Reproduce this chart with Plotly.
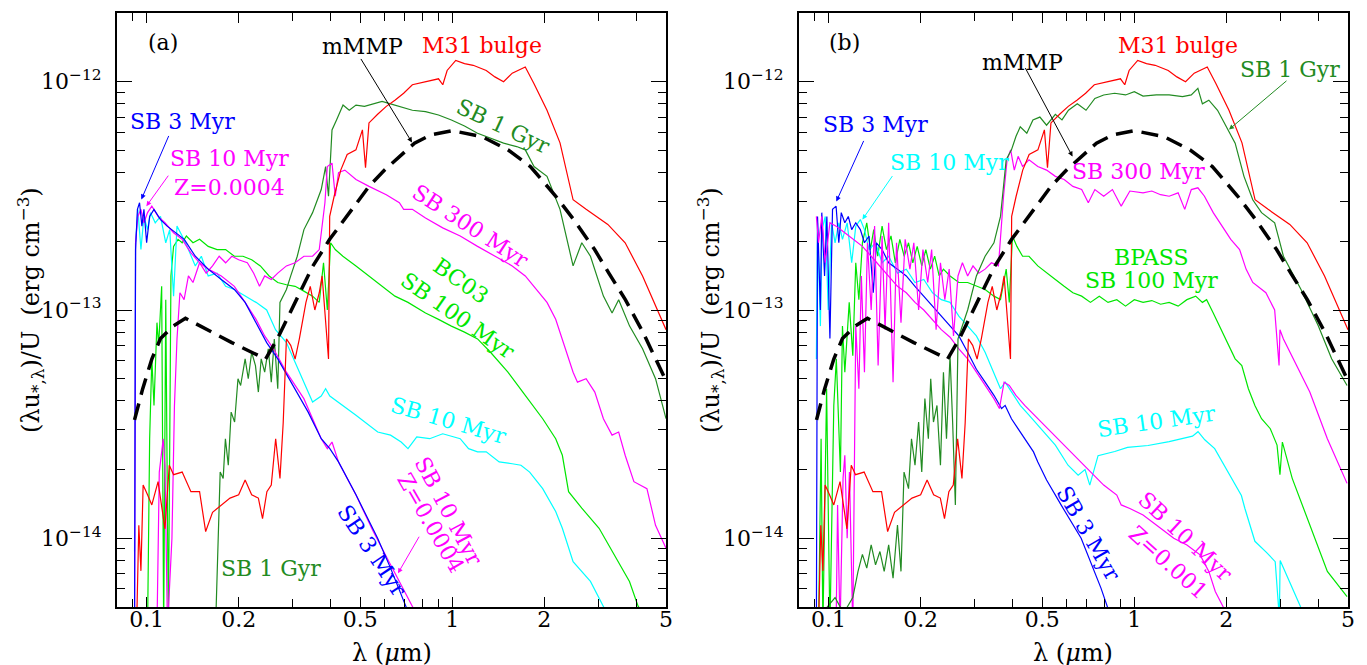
import numpy as np
import plotly.graph_objects as go

# (wavelength in um, lambda*u_lambda in 1e-13 erg cm^-3)

# shared by both panels
MMMP = [(0.0913, 0.33), (0.097, 0.45), (0.104, 0.61), (0.111, 0.75), (0.122, 0.85), (0.134, 0.92),
        (0.19, 0.72), (0.245, 0.61), (0.268, 0.75), (0.296, 0.99), (0.349, 1.55), (0.397, 2.04),
        (0.453, 2.6), (0.534, 3.48), (0.60, 4.1), (0.67, 4.7), (0.752, 5.38), (0.85, 5.85), (1.0, 6.1),
        (1.25, 5.75), (1.52, 5.03), (1.8, 4.25), (2.18, 3.15), (2.5, 2.48), (2.92, 1.84), (3.25, 1.45),
        (3.68, 1.11), (4.2, 0.80), (5.0, 0.49)]

M31_BULGE = [(0.0927, 0.04), (0.0943, 0.114), (0.0958, 0.072), (0.0974, 0.171), (0.1007, 0.155), (0.104, 0.14),
             (0.109, 0.177), (0.1148, 0.11), (0.1186, 0.209), (0.1225, 0.19), (0.1307, 0.195), (0.1396, 0.16),
             (0.149, 0.16), (0.156, 0.107), (0.1643, 0.13), (0.1755, 0.14), (0.1874, 0.15), (0.200, 0.155),
             (0.21, 0.18), (0.2206, 0.155), (0.232, 0.15), (0.2394, 0.122), (0.2474, 0.16), (0.2557, 0.171),
             (0.2643, 0.273), (0.273, 0.183), (0.2797, 0.32), (0.2866, 0.747), (0.296, 0.70), (0.306, 0.61),
             (0.316, 0.75), (0.332, 1.08), (0.343, 1.27), (0.355, 1.0), (0.367, 1.19), (0.375, 1.41),
             (0.3847, 0.88), (0.3935, 0.61), (0.397, 2.57), (0.4106, 3.15), (0.4315, 4.1), (0.4529, 4.8),
             (0.4838, 5.03), (0.508, 6.15), (0.520, 4.2), (0.5337, 6.6), (0.5697, 7.2), (0.608, 7.8),
             (0.649, 8.3), (0.693, 8.9), (0.740, 9.7), (0.8166, 10.0), (0.901, 10.3), (0.9306, 9.7),
             (0.9615, 11.2), (1.026, 12.4), (1.096, 12.0), (1.17, 11.8), (1.291, 11.2), (1.378, 10.5),
             (1.471, 10.0), (1.57, 10.9), (1.732, 11.6), (1.85, 9.8), (2.04, 7.5), (2.25, 5.4), (2.483, 3.04),
             (2.739, 2.76), (3.225, 2.37), (3.675, 1.97), (4.19, 1.41), (5.0, 0.82)]

# panel (a)
GYR1_A = [(0.168, 0.04), (0.171, 0.10), (0.174, 0.195), (0.178, 0.183), (0.181, 0.273), (0.185, 0.209),
          (0.189, 0.357), (0.194, 0.323), (0.199, 0.50), (0.203, 0.467), (0.210, 0.611), (0.215, 0.50),
          (0.2206, 0.653), (0.227, 0.571), (0.232, 0.437), (0.237, 0.611), (0.2433, 0.534), (0.25, 0.676),
          (0.2557, 0.483), (0.2616, 0.747), (0.2685, 0.452), (0.273, 1.08), (0.2866, 1.23), (0.296, 1.41),
          (0.311, 1.72), (0.327, 2.25), (0.349, 2.67), (0.3725, 3.37), (0.385, 4.25), (0.3935, 3.15),
          (0.404, 6.15), (0.418, 6.8), (0.439, 7.9), (0.46, 7.5), (0.484, 7.9), (0.516, 7.8), (0.551, 8.0),
          (0.589, 8.2), (0.628, 8.0), (0.671, 7.8), (0.74, 7.5), (0.817, 7.4), (0.901, 7.15), (0.993, 6.8),
          (1.096, 6.4), (1.209, 5.95), (1.333, 5.65), (1.471, 5.38), (1.623, 5.2), (1.732, 5.03), (1.85, 4.25),
          (2.04, 3.85), (2.25, 2.76), (2.483, 1.56), (2.651, 1.97), (2.83, 1.72), (3.12, 1.15), (3.33, 0.97),
          (3.5, 1.11), (3.8, 0.85), (4.19, 0.676), (4.62, 0.50), (5.0, 0.334)]

MYR300_A = [(0.1081, 0.04), (0.110, 0.195), (0.112, 0.239), (0.1133, 0.273), (0.1148, 0.209), (0.117, 0.04),
            (0.121, 0.10), (0.1233, 0.38), (0.1257, 0.747), (0.1285, 1.19), (0.1326, 1.11), (0.137, 1.41),
            (0.1418, 1.32), (0.149, 1.61), (0.1566, 1.45), (0.1643, 1.56), (0.1727, 1.72), (0.1813, 1.61),
            (0.19, 1.72), (0.2, 1.66), (0.2135, 1.61), (0.224, 1.45), (0.234, 1.27), (0.2433, 1.41),
            (0.2557, 1.36), (0.2685, 1.45), (0.2866, 1.56), (0.306, 1.61), (0.327, 1.72), (0.349, 1.72),
            (0.367, 1.84), (0.383, 2.95), (0.39, 4.25), (0.404, 4.4), (0.414, 3.15), (0.4243, 4.0),
            (0.445, 4.1), (0.484, 3.73), (0.534, 3.48), (0.608, 3.2), (0.671, 2.95), (0.693, 2.76),
            (0.74, 2.76), (0.817, 2.53), (0.93, 2.29), (1.061, 2.11), (1.209, 1.9), (1.378, 1.72),
            (1.57, 1.56), (1.732, 1.41), (1.85, 1.27), (2.04, 1.08), (2.178, 0.91), (2.325, 0.70),
            (2.483, 0.534), (2.566, 0.483), (2.739, 0.50), (2.924, 0.437), (3.12, 0.334), (3.33, 0.283),
            (3.5, 0.292), (3.675, 0.231), (3.925, 0.177), (4.33, 0.165), (4.62, 0.114), (5.0, 0.0904)]

MYR10Z_A = [(0.0913, 0.04), (0.092, 1.97), (0.0936, 2.57), (0.0958, 2.76), (0.098, 2.41), (0.1007, 2.67),
            (0.104, 2.85), (0.109, 2.57), (0.1148, 2.41), (0.1225, 2.18), (0.1307, 2.04), (0.1396, 1.78),
            (0.149, 1.61), (0.159, 1.51), (0.1755, 1.41), (0.1936, 1.27), (0.21, 1.08), (0.228, 0.91),
            (0.2433, 0.77), (0.26, 0.676), (0.2866, 0.534), (0.3268, 0.409), (0.3725, 0.273), (0.39, 0.247),
            (0.404, 0.264), (0.4243, 0.216), (0.484, 0.1546), (0.5513, 0.107), (0.628, 0.0765), (0.74, 0.0503),
            (0.76, 0.047)]

MYR3_A = [(0.0913, 0.04), (0.092, 1.84), (0.0933, 2.76), (0.0948, 2.95), (0.0965, 2.33), (0.098, 2.76),
          (0.1, 1.97), (0.1023, 2.57), (0.1057, 2.76), (0.111, 2.49), (0.1167, 2.33), (0.1245, 2.18),
          (0.1328, 2.04), (0.1443, 1.72), (0.159, 1.51), (0.1755, 1.36), (0.1936, 1.23), (0.21, 1.08),
          (0.228, 0.88), (0.247, 0.72), (0.2685, 0.611), (0.296, 0.483), (0.3376, 0.357), (0.3725, 0.273),
          (0.3974, 0.247), (0.4243, 0.216), (0.484, 0.155), (0.5697, 0.10), (0.628, 0.074), (0.705, 0.0503),
          (0.72, 0.047)]

MYR10_A = [(0.0913, 0.0875), (0.092, 1.97), (0.0936, 2.76), (0.0958, 1.84), (0.098, 2.57), (0.1007, 2.25),
           (0.103, 2.67), (0.1067, 2.41), (0.111, 2.57), (0.1155, 1.97), (0.119, 2.25), (0.1225, 1.15),
           (0.1257, 2.33), (0.1307, 2.11), (0.137, 1.84), (0.1443, 1.56), (0.151, 1.72), (0.159, 1.41),
           (0.17, 1.45), (0.1813, 1.27), (0.1936, 1.23), (0.21, 1.15), (0.228, 1.08), (0.247, 1.0),
           (0.264, 0.82), (0.2866, 0.72), (0.316, 0.534), (0.349, 0.395), (0.3725, 0.42), (0.385, 0.452),
           (0.3974, 0.42), (0.4243, 0.395), (0.484, 0.346), (0.57, 0.292), (0.628, 0.283), (0.68, 0.264),
           (0.716, 0.247), (0.765, 0.278), (0.843, 0.273), (0.93, 0.287), (1.061, 0.273), (1.13, 0.247),
           (1.209, 0.239), (1.291, 0.239), (1.423, 0.216), (1.57, 0.212), (1.677, 0.209), (1.79, 0.195),
           (1.975, 0.165), (2.178, 0.131), (2.29, 0.1106), (2.483, 0.079), (2.651, 0.0716), (2.83, 0.0647),
           (3.12, 0.0503), (3.2, 0.047)]

MYR100_A = [(0.1007, 0.04), (0.1023, 0.273), (0.104, 0.611), (0.1057, 0.382), (0.1081, 0.88), (0.1095, 0.70),
            (0.112, 1.27), (0.1137, 0.04), (0.1155, 1.11), (0.1178, 0.04), (0.1201, 1.41), (0.1225, 1.9),
            (0.1267, 2.04), (0.1307, 1.97), (0.1349, 2.11), (0.1418, 1.97), (0.149, 2.04), (0.159, 1.9),
            (0.17, 1.84), (0.1813, 1.84), (0.1936, 1.72), (0.2066, 1.72), (0.2206, 1.66), (0.2355, 1.56),
            (0.2516, 1.41), (0.2685, 1.32), (0.2866, 1.29), (0.306, 1.27), (0.3268, 1.21), (0.349, 1.15),
            (0.367, 1.08), (0.379, 1.61), (0.39, 1.0), (0.3997, 1.97), (0.414, 1.84), (0.4385, 1.72),
            (0.484, 1.56), (0.534, 1.41), (0.589, 1.27), (0.649, 1.15), (0.716, 1.08), (0.817, 0.97),
            (0.901, 0.91), (0.993, 0.85), (1.096, 0.80), (1.209, 0.747), (1.333, 0.653), (1.52, 0.534),
            (1.732, 0.423), (1.975, 0.334), (2.178, 0.273), (2.29, 0.231), (2.4, 0.16), (2.651, 0.1355),
            (3.02, 0.1106), (3.443, 0.0818), (3.797, 0.0647), (4.055, 0.0503), (4.2, 0.047)]

# panel (b)
GYR1_B = [(0.0927, 0.045), (0.105, 0.055), (0.112, 0.047), (0.12, 0.055), (0.1248, 0.0716), (0.129, 0.085),
          (0.1333, 0.074), (0.1378, 0.0935), (0.1424, 0.0765), (0.1472, 0.0875), (0.152, 0.0716),
          (0.1572, 0.0935), (0.1625, 0.0669), (0.168, 0.1143), (0.1725, 0.0716), (0.1765, 0.195),
          (0.1826, 0.165), (0.1867, 0.273), (0.1917, 0.209), (0.197, 0.323), (0.2017, 0.195), (0.2065, 0.409),
          (0.212, 0.273), (0.2158, 0.50), (0.2203, 0.323), (0.2262, 0.382), (0.2322, 0.209), (0.2375, 0.534),
          (0.243, 0.273), (0.2496, 0.63), (0.2545, 0.323), (0.2598, 0.14), (0.265, 0.747), (0.2715, 0.82),
          (0.285, 1.0), (0.3044, 1.41), (0.325, 1.72), (0.3474, 1.97), (0.365, 2.57), (0.381, 4.55),
          (0.3964, 5.03), (0.41, 5.75), (0.4235, 6.35), (0.445, 5.95), (0.466, 6.8), (0.491, 7.0),
          (0.5164, 6.45), (0.5517, 7.2), (0.58, 6.8), (0.609, 7.5), (0.651, 8.0), (0.695, 7.5), (0.743, 8.45),
          (0.794, 8.75), (0.862, 8.9), (0.936, 8.75), (1.0, 9.05), (1.068, 8.65), (1.18, 8.75), (1.30, 8.75),
          (1.438, 8.6), (1.536, 8.75), (1.614, 9.35), (1.67, 8.0), (1.753, 8.3), (1.872, 7.5), (2.0, 6.35),
          (2.137, 5.38), (2.284, 3.85), (2.44, 3.04), (2.607, 2.67), (2.878, 2.41), (2.975, 2.04),
          (3.074, 1.72), (3.51, 1.23), (4.0, 0.85), (4.42, 0.611), (4.965, 0.467)]

MYR3_B = [(0.0912, 0.04), (0.092, 2.57), (0.094, 1.0), (0.095, 2.67), (0.097, 1.41), (0.0987, 2.57), (0.101, 0.75),
          (0.103, 2.76), (0.1058, 2.85), (0.108, 1.97), (0.110, 2.67), (0.113, 2.41), (0.116, 2.57), (0.119, 2.25),
          (0.1227, 2.41), (0.127, 2.25), (0.131, 1.97), (0.1356, 2.11), (0.14, 1.19), (0.1433, 1.97),
          (0.1496, 1.84), (0.1572, 1.61), (0.168, 1.51), (0.1795, 1.41), (0.1917, 1.27), (0.2048, 1.15),
          (0.2188, 1.04), (0.2337, 0.94), (0.2496, 0.85), (0.2667, 0.77), (0.285, 0.653), (0.3044, 0.55),
          (0.325, 0.483), (0.3474, 0.423), (0.368, 0.37), (0.378, 0.382), (0.3964, 0.334), (0.4235, 0.292),
          (0.4524, 0.256), (0.468, 0.239), (0.4834, 0.216), (0.5164, 0.18), (0.576, 0.14), (0.67, 0.10),
          (0.778, 0.0605), (0.82, 0.05), (0.83, 0.047)]

MYR10_B = [(0.0912, 0.61), (0.092, 2.41), (0.094, 0.85), (0.0952, 2.25), (0.0975, 2.57), (0.0997, 1.0),
           (0.1023, 2.41), (0.105, 1.97), (0.108, 2.41), (0.111, 2.04), (0.115, 2.41), (0.119, 1.61),
           (0.1227, 2.33), (0.127, 2.49), (0.131, 2.25), (0.1356, 1.84), (0.1424, 1.97), (0.1496, 1.61),
           (0.1572, 1.72), (0.168, 1.45), (0.1795, 1.51), (0.1917, 1.32), (0.2048, 1.36), (0.2188, 1.19),
           (0.2337, 1.11), (0.2496, 1.08), (0.2667, 0.94), (0.285, 0.85), (0.3044, 0.77), (0.325, 0.653),
           (0.3474, 0.534), (0.365, 0.452), (0.378, 0.483), (0.3964, 0.437), (0.4235, 0.382), (0.4524, 0.346),
           (0.4834, 0.3126), (0.5164, 0.283), (0.5517, 0.256), (0.607, 0.209), (0.655, 0.189), (0.69, 0.20),
           (0.715, 0.171), (0.761, 0.23), (0.863, 0.24), (0.95, 0.25), (1.109, 0.255), (1.3, 0.265),
           (1.426, 0.273), (1.55, 0.28), (1.616, 0.293), (1.7, 0.27), (1.832, 0.247), (2.025, 0.196),
           (2.24, 0.154), (2.3, 0.135), (2.48, 0.097), (2.7, 0.087), (2.89, 0.079), (2.98, 0.045),
           (3.0, 0.08), (3.5, 0.05), (3.6, 0.047)]

MYR10Z_B = [(0.0912, 2.57), (0.0927, 1.97), (0.095, 2.57), (0.0975, 1.61), (0.101, 2.41), (0.1058, 2.33),
            (0.113, 2.18), (0.1207, 2.04), (0.129, 1.9), (0.1378, 1.72), (0.1472, 1.56), (0.1572, 1.41),
            (0.168, 1.27), (0.1795, 1.19), (0.1917, 1.08), (0.2048, 1.0), (0.2188, 0.91), (0.2337, 0.82),
            (0.2496, 0.76), (0.2667, 0.676), (0.285, 0.611), (0.3044, 0.534), (0.325, 0.467), (0.3474, 0.409),
            (0.362, 0.37), (0.375, 0.483), (0.39, 0.467), (0.41, 0.423), (0.438, 0.382), (0.4834, 0.334),
            (0.534, 0.292), (0.5894, 0.256), (0.651, 0.2235), (0.7187, 0.1954), (0.794, 0.171), (0.8763, 0.1546),
            (0.906, 0.14), (0.967, 0.135), (1.068, 0.1265), (1.219, 0.1106), (1.346, 0.10), (1.486, 0.0935),
            (1.641, 0.0846), (1.753, 0.0716), (1.84, 0.0585), (1.95, 0.0503), (2.0, 0.047)]

MYR300_B = [(0.1058, 0.04), (0.107, 0.14), (0.109, 0.04), (0.1115, 0.183), (0.113, 0.231), (0.115, 0.10),
            (0.117, 0.195), (0.12, 0.04), (0.1227, 0.85), (0.1256, 0.452), (0.128, 1.41), (0.131, 0.534),
            (0.134, 1.97), (0.1378, 1.0), (0.1414, 2.33), (0.1452, 0.571), (0.1496, 2.11), (0.153, 0.82),
            (0.1572, 2.41), (0.1625, 0.483), (0.1668, 1.97), (0.1725, 0.88), (0.178, 2.04), (0.1845, 1.51),
            (0.19, 1.97), (0.197, 1.0), (0.2035, 1.84), (0.211, 1.32), (0.2173, 1.84), (0.2247, 0.82),
            (0.2322, 1.61), (0.24, 1.11), (0.248, 1.51), (0.2562, 0.77), (0.265, 1.41), (0.274, 1.61),
            (0.285, 1.41), (0.2967, 1.56), (0.31, 1.45), (0.325, 1.51), (0.341, 1.61), (0.3594, 1.56),
            (0.3735, 3.15), (0.3836, 4.55), (0.394, 5.03), (0.405, 4.1), (0.4168, 4.71), (0.431, 4.25),
            (0.4524, 4.55), (0.4834, 4.25), (0.5164, 4.1), (0.5517, 3.85), (0.5894, 3.73), (0.6297, 3.48),
            (0.6727, 3.37), (0.707, 2.95), (0.743, 3.37), (0.794, 3.15), (0.848, 3.37), (0.906, 2.85),
            (0.967, 3.32), (1.068, 3.26), (1.141, 3.32), (1.219, 3.2), (1.30, 3.15), (1.391, 3.26),
            (1.462, 2.76), (1.536, 3.37), (1.614, 3.43), (1.696, 3.15), (1.812, 2.67), (1.936, 2.33),
            (2.068, 2.04), (2.21, 1.84), (2.32, 1.51), (2.44, 1.32), (2.694, 1.19), (2.878, 1.0),
            (2.975, 0.571), (2.995, 0.82), (3.074, 0.747), (3.75, 0.437), (4.28, 0.273), (4.965, 0.174)]

MYR100_B = [(0.0927, 0.04), (0.0945, 0.273), (0.0958, 0.04), (0.0985, 0.452), (0.101, 0.04), (0.104, 0.382),
            (0.106, 0.611), (0.1093, 0.195), (0.111, 0.85), (0.113, 0.534), (0.1168, 1.08), (0.12, 0.63),
            (0.1227, 1.61), (0.1256, 1.11), (0.129, 1.97), (0.1333, 2.41), (0.137, 1.84), (0.1405, 2.25),
            (0.1448, 1.72), (0.1496, 2.33), (0.1546, 1.84), (0.16, 2.11), (0.1653, 1.61), (0.171, 2.04),
            (0.1767, 1.72), (0.1826, 1.97), (0.1886, 1.61), (0.1949, 1.9), (0.2017, 1.56), (0.208, 1.84),
            (0.2152, 1.51), (0.2223, 1.72), (0.23, 1.41), (0.2375, 1.51), (0.2496, 1.41), (0.2667, 1.32),
            (0.285, 1.32), (0.3044, 1.27), (0.325, 1.23), (0.3474, 1.15), (0.365, 1.11), (0.381, 1.51),
            (0.39, 1.08), (0.3995, 2.11), (0.413, 1.9), (0.431, 1.72), (0.4524, 1.72), (0.4834, 1.56),
            (0.5164, 1.45), (0.5517, 1.36), (0.5894, 1.27), (0.6297, 1.19), (0.6727, 1.15), (0.7187, 1.08),
            (0.768, 1.15), (0.8203, 1.08), (0.8763, 1.11), (0.936, 1.04), (1.0, 1.11), (1.068, 1.08),
            (1.141, 1.10), (1.219, 1.06), (1.30, 1.08), (1.391, 1.04), (1.486, 1.11), (1.588, 1.15),
            (1.67, 1.08), (1.724, 1.11), (1.812, 0.97), (1.936, 0.80), (2.034, 0.70), (2.137, 0.611),
            (2.247, 0.571), (2.361, 0.452), (2.48, 0.382), (2.607, 0.334), (2.785, 0.302), (2.93, 0.256),
            (2.995, 0.19), (3.05, 0.264), (3.285, 0.183), (3.75, 0.1143), (4.28, 0.0716), (4.965, 0.0555)]

X_TICKS = [0.1, 0.2, 0.5, 1, 2, 5]
X_MINOR = [0.09, 0.3, 0.4, 0.6, 0.7, 0.8, 0.9, 3, 4]
Y_TICKS = [1e-14, 1e-13, 1e-12]
Y_TICKTEXT = ["10<sup>\u221214</sup>", "10<sup>\u221213</sup>", "10<sup>\u221212</sup>"]
Y_MINOR = [6e-15, 7e-15, 8e-15, 9e-15, 2e-14, 3e-14, 4e-14, 5e-14, 6e-14, 7e-14, 8e-14, 9e-14,
           2e-13, 3e-13, 4e-13, 5e-13, 6e-13, 7e-13, 8e-13, 9e-13, 2e-12]

FONT = "DejaVu Serif"
RED, DGREEN, GREEN = "#ff0000", "#228b22", "#00e600"
CYAN, MAGENTA, BLUE = "#00ffff", "#ff00ff", "#0000ff"

panels = {
    ("x", "y"): [(MYR100_A, GREEN), (GYR1_A, DGREEN), (MYR10_A, CYAN), (MYR300_A, MAGENTA),
                 (MYR10Z_A, MAGENTA), (MYR3_A, BLUE), (M31_BULGE, RED)],
    ("x2", "y2"): [(MYR100_B, GREEN), (MYR10_B, CYAN), (MYR3_B, BLUE), (MYR10Z_B, MAGENTA),
                   (MYR300_B, MAGENTA), (GYR1_B, DGREEN), (M31_BULGE, RED)],
}

fig = go.Figure()
for (xa, ya), curves in panels.items():
    for data, color in curves:
        wl, u = np.array(data).T
        fig.add_trace(go.Scatter(x=wl, y=u * 1e-13, mode="lines", line=dict(color=color, width=1.2),
                                 xaxis=xa, yaxis=ya, showlegend=False, hoverinfo="skip"))
    wl, u = np.array(MMMP).T
    fig.add_trace(go.Scatter(x=wl, y=u * 1e-13, mode="lines",
                             line=dict(color="black", width=3.5, dash="17px,9px"),
                             xaxis=xa, yaxis=ya, showlegend=False, hoverinfo="skip"))

# labels: text, wavelength, value, colour, angle
LABELS_A = [("(a)", 0.113, 1.48e-12, "black", 0), ("mMMP", 0.508, 1.42e-12, "black", 0),
            ("M31 bulge", 1.25, 1.44e-12, RED, 0), ("SB 1 Gyr", 1.47, 6.35e-13, DGREEN, 25),
            ("SB 3 Myr", 0.1306, 6.68e-13, BLUE, 0), ("SB 10 Myr<br>Z=0.0004", 0.1867, 3.98e-13, MAGENTA, 0),
            ("SB 300 Myr", 1.15, 2.33e-13, MAGENTA, 33),
            ("BC03", 1.06, 1.34e-13, GREEN, 35), ("SB 100 Myr", 1.037, 9.42e-14, GREEN, 35),
            ("SB 10 Myr", 0.968, 3.27e-14, CYAN, 16), ("SB 3 Myr", 0.546, 8.87e-15, BLUE, 56),
            ("SB 10 Myr", 0.968, 1.32e-14, MAGENTA, 62), ("Z=0.0004", 0.851, 1.16e-14, MAGENTA, 60),
            ("SB 1 Gyr", 0.255, 7.4e-15, DGREEN, 0)]
LABELS_B = [("(b)", 0.1126, 1.48e-12, "black", 0), ("mMMP", 0.431, 1.22e-12, "black", 0),
            ("M31 bulge", 1.391, 1.44e-12, RED, 0), ("SB 1 Gyr", 3.22, 1.13e-12, DGREEN, 0),
            ("SB 3 Myr", 0.142, 6.49e-13, BLUE, 0), ("SB 10 Myr", 0.249, 4.43e-13, CYAN, 0),
            ("SB 300 Myr", 1.03, 4.05e-13, MAGENTA, 0), ("BPASS", 1.136, 1.70e-13, GREEN, 0),
            ("SB 100 Myr", 1.136, 1.34e-13, GREEN, 0), ("SB 10 Myr", 1.178, 3.24e-14, CYAN, -8),
            ("SB 3 Myr", 0.708, 1.05e-14, BLUE, 60), ("SB 10 Myr", 1.467, 1.02e-14, MAGENTA, 43),
            ("Z=0.001", 1.29, 7.85e-15, MAGENTA, 42)]
# arrows: head wavelength, head value, tail offset (px), colour
ARROWS_A = [(0.738, 5.42e-13, -52, -85, "black"), (0.0961, 3.05e-13, 28, -65, BLUE),
            (0.0998, 2.85e-13, 23, -32, MAGENTA), (0.664, 7.03e-15, 22, -38, MAGENTA)]
ARROWS_B = [(0.628, 4.7e-13, -48, -90, "black"), (2.04, 6.17e-13, 59, -50, DGREEN),
            (0.106, 2.99e-13, 28, -62, BLUE), (0.129, 2.49e-13, 31, -45, CYAN)]

for (xr, yr), labels, arrows in ((("x", "y"), LABELS_A, ARROWS_A), (("x2", "y2"), LABELS_B, ARROWS_B)):
    for text, wl, val, color, ang in labels:
        fig.add_annotation(x=np.log10(wl), y=np.log10(val), xref=xr, yref=yr, text=text, showarrow=False,
                           textangle=ang, font=dict(family=FONT, size=22, color=color))
    for wl, val, ax, ay, color in arrows:
        fig.add_annotation(x=np.log10(wl), y=np.log10(val), xref=xr, yref=yr, text="", showarrow=True,
                           ax=ax, ay=ay, arrowhead=2, arrowsize=1, arrowwidth=1, arrowcolor=color, standoff=0)

ytitle = "(\u03bbu<sub>*,\u03bb</sub>)/U  (erg cm<sup>\u22123</sup>)"
for xp in (-0.0707, 0.4817):
    fig.add_annotation(x=xp, y=0.5, xref="paper", yref="paper", xanchor="center", yanchor="middle",
                       text=ytitle, showarrow=False, textangle=-90,
                       font=dict(family=FONT, size=24, color="black"))
for xp in (0.223, 0.777):
    fig.add_annotation(x=xp, y=-0.0775, xref="paper", yref="paper", xanchor="center", yanchor="middle",
                       text="\u03bb (<i>\u03bc</i>m)", showarrow=False,
                       font=dict(family=FONT, size=24, color="black"))

axis_common = dict(type="log", showline=True, linecolor="black", linewidth=2, mirror="ticks",
                   ticks="inside", tickwidth=1.3, tickcolor="black", showgrid=False,
                   zeroline=False, tickfont=dict(family=FONT, size=22, color="black"))
xaxis = dict(axis_common, range=[np.log10(0.08), np.log10(5)], tickmode="array", tickvals=X_TICKS,
             ticktext=[str(t) for t in X_TICKS], ticklen=10, ticklabelstandoff=-8,
             minor=dict(tickmode="array", tickvals=X_MINOR, ticks="inside", ticklen=8, tickcolor="black",
                        tickwidth=1.2))
yaxis = dict(axis_common, range=[np.log10(5e-15), np.log10(2e-12)], tickmode="array", tickvals=Y_TICKS,
             ticktext=Y_TICKTEXT, ticklen=15, ticklabelstandoff=9,
             minor=dict(tickmode="array", tickvals=Y_MINOR, ticks="inside", ticklen=8, tickcolor="black",
                        tickwidth=1.2))

fig.update_layout(
    width=1367, height=665, paper_bgcolor="white", plot_bgcolor="white",
    margin=dict(l=109, r=27, t=3, b=66),
    xaxis=dict(xaxis, domain=[0, 0.446], anchor="y"),
    yaxis=dict(yaxis, domain=[0, 1], anchor="x"),
    xaxis2=dict(xaxis, domain=[0.554, 1], anchor="y2"),
    yaxis2=dict(yaxis, domain=[0, 1], anchor="x2"),
)

fig.write_html("out.html")
